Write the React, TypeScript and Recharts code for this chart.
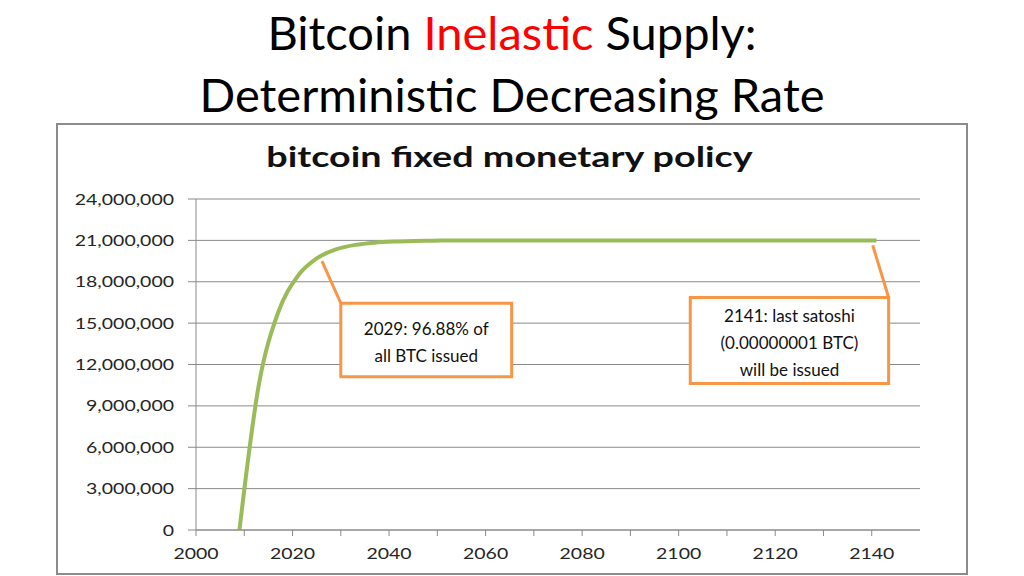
import { LineChart, Line, XAxis, YAxis, CartesianGrid, ReferenceArea, ReferenceLine } from "recharts"

// ------------------------------------------------------------------
// Data
// ------------------------------------------------------------------

const years = [2009, 2013, 2017, 2021, 2025, 2029, 2033, 2037, 2041, 2045, 2049, 2053, 2057, 2061, 2141]
const supply = [
    0, 10500000, 15750000, 18375000, 19687500, 20343750, 20671875, 20835938, 20917969, 20958984, 20979492,
    20989746, 20994873, 20997437, 21000000,
]

const xTicks = [2000, 2010, 2020, 2030, 2040, 2050, 2060, 2070, 2080, 2090, 2100, 2110, 2120, 2130, 2140]
const yTicks = [0, 3000000, 6000000, 9000000, 12000000, 15000000, 18000000, 21000000, 24000000]

const note2029 = ["2029: 96.88% of", "all BTC issued"]
const note2141 = ["2141: last satoshi", "(0.00000001 BTC)", "will be issued"]

const data = years.map((year, i) => ({ year, supply: supply[i] }))

const ORANGE = "#f79646"
const GREEN = "#9bbb59"
const GRID = "#8a8a8a"
const FONT = "Lato, 'Open Sans', sans-serif"
// the chart picture in the slide is stretched sideways
const STRETCH = 1.3

// ------------------------------------------------------------------
// Ticks (stretched like the pasted chart image)
// ------------------------------------------------------------------

function YTick({ x, y, payload }: any) {
    return (
        <g transform={`translate(${x},${y})`}>
            <text transform={`scale(${STRETCH},1)`} textAnchor="end" dy={5.5} fontSize={15} fontFamily={FONT} fill="#262626">
                {Number(payload.value).toLocaleString("en-US")}
            </text>
        </g>
    )
}

function XTick({ x, y, payload }: any) {
    if (payload.value % 20 !== 0) return null
    return (
        <g transform={`translate(${x},${y})`}>
            <text transform={`scale(${STRETCH},1)`} textAnchor="middle" dy={15} fontSize={15} fontFamily={FONT} fill="#262626">
                {payload.value}
            </text>
        </g>
    )
}

// ------------------------------------------------------------------
// Callout text inside a reference area
// ------------------------------------------------------------------

function CalloutText({ viewBox, lines }: { viewBox?: any; lines: string[] }) {
    if (!viewBox) return null
    const { x, y, width, height } = viewBox
    const cx = x + width / 2
    const step = 27
    const first = y + height / 2 - ((lines.length - 1) * step) / 2 + 2
    return (
        <text x={cx} textAnchor="middle" fontFamily={FONT} fontSize={17} fill="#111">
            {lines.map((l, i) => (
                <tspan key={i} x={cx} y={first + i * step} dominantBaseline="central">
                    {l}
                </tspan>
            ))}
        </text>
    )
}

// ------------------------------------------------------------------
// Page
// ------------------------------------------------------------------

export default function App() {
    return (
        <div
            style={{
                position: "absolute",
                left: 0,
                top: 0,
                width: 1024,
                height: 576,
                background: "#fff",
                overflow: "hidden",
                fontFamily: FONT,
            }}
        >
            <div
                style={{
                    position: "absolute",
                    top: 1,
                    left: 0,
                    width: 1024,
                    textAlign: "center",
                    fontSize: 47,
                    lineHeight: "62px",
                    color: "#000",
                }}
            >
                <div>
                    Bitcoin <span style={{ color: "#ff0000" }}>Inelastic</span> Supply:
                </div>
                <div>Deterministic Decreasing Rate</div>
            </div>

            <div
                style={{
                    position: "absolute",
                    left: 56,
                    top: 123,
                    width: 908,
                    height: 448,
                    border: "2px solid #8c8c8c",
                }}
            />

            <div
                style={{
                    position: "absolute",
                    top: 138,
                    left: 0,
                    width: 1019,
                    textAlign: "center",
                    fontSize: 29,
                    lineHeight: "35px",
                    fontWeight: 700,
                    color: "#111",
                    transform: `scaleX(${STRETCH})`,
                    transformOrigin: "509.5px 0",
                }}
            >
                bitcoin fixed monetary policy
            </div>

            <div style={{ position: "absolute", left: 0, top: 0 }}>
                <LineChart
                    width={1024}
                    height={576}
                    data={data}
                    margin={{ top: 199, right: 104, left: 76, bottom: 16 }}
                >
                    <CartesianGrid vertical={false} stroke={GRID} strokeWidth={1} />

                    <XAxis
                        dataKey="year"
                        type="number"
                        domain={[2000, 2150]}
                        ticks={xTicks}
                        interval={0}
                        height={30}
                        stroke={GRID}
                        tickSize={6}
                        tickMargin={8}
                        tick={<XTick />}
                    />

                    <YAxis
                        type="number"
                        domain={[0, 24000000]}
                        ticks={yTicks}
                        interval={0}
                        width={120}
                        stroke={GRID}
                        tickSize={8}
                        tickMargin={14}
                        tick={<YTick />}
                    />

                    <Line
                        type="monotone"
                        dataKey="supply"
                        stroke={GREEN}
                        strokeWidth={4}
                        dot={false}
                        isAnimationActive={false}
                    />

                    <ReferenceLine
                        segment={[
                            { x: 2026.1, y: 19500000 },
                            { x: 2030, y: 16450000 },
                        ]}
                        stroke={ORANGE}
                        strokeWidth={3}
                    />
                    <ReferenceLine
                        segment={[
                            { x: 2140.2, y: 20650000 },
                            { x: 2143.5, y: 16860000 },
                        ]}
                        stroke={ORANGE}
                        strokeWidth={3}
                    />

                    <ReferenceArea
                        x1={2030}
                        x2={2065.4}
                        y1={11110000}
                        y2={16450000}
                        stroke={ORANGE}
                        strokeWidth={3}
                        fill="#fff"
                        fillOpacity={1}
                        label={(p: any) => <CalloutText viewBox={p.viewBox} lines={note2029} />}
                    />
                    <ReferenceArea
                        x1={2102.4}
                        x2={2143.5}
                        y1={10630000}
                        y2={16860000}
                        stroke={ORANGE}
                        strokeWidth={3}
                        fill="#fff"
                        fillOpacity={1}
                        label={(p: any) => <CalloutText viewBox={p.viewBox} lines={note2141} />}
                    />
                </LineChart>
            </div>
        </div>
    )
}
